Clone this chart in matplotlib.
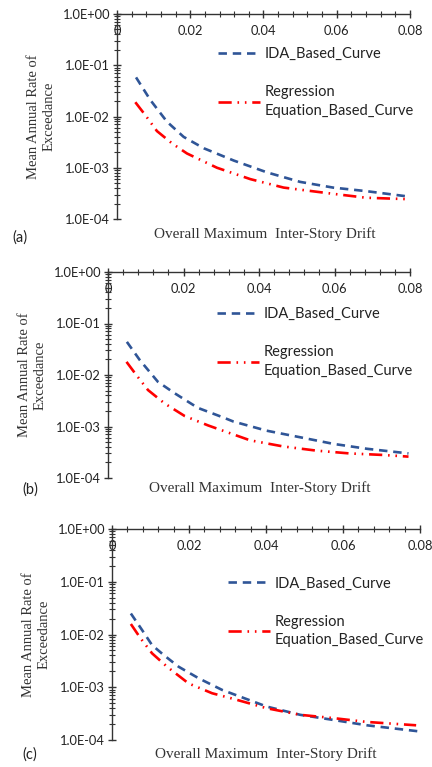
import numpy as np
import matplotlib
matplotlib.use("Agg")
import matplotlib.pyplot as plt
from matplotlib.ticker import LogLocator, NullFormatter, MultipleLocator, FuncFormatter

# ---- data ----
ida_x_a = [0.0052, 0.0091, 0.01365, 0.0182, 0.0237, 0.0319, 0.041, 0.050, 0.059, 0.068, 0.0786]
ida_y_a = [5.8e-2, 2.1e-2, 7.9e-3, 4.0e-3, 2.4e-3, 1.38e-3, 8.1e-4, 5.3e-4, 4.1e-4, 3.5e-4, 2.8e-4]
reg_x_a = [0.005, 0.0077, 0.0109, 0.015, 0.0191, 0.0273, 0.0364, 0.0455, 0.059, 0.068, 0.0786]
reg_y_a = [1.9e-2, 1.07e-2, 5.2e-3, 3.0e-3, 1.9e-3, 1.0e-3, 6.0e-4, 4.1e-4, 3.1e-4, 2.6e-4, 2.45e-4]

ida_x_b = [0.005, 0.0084, 0.0132, 0.0177, 0.0238, 0.0305, 0.0332, 0.042, 0.0508, 0.0597, 0.0685, 0.0796]
ida_y_b = [4.4e-2, 1.96e-2, 7.4e-3, 4.4e-3, 2.3e-3, 1.5e-3, 1.25e-3, 8.3e-4, 6.2e-4, 4.6e-4, 3.7e-4, 3.0e-4]
reg_x_b = [0.0049, 0.0075, 0.0106, 0.015, 0.0203, 0.0265, 0.0376, 0.0464, 0.0552, 0.064, 0.0729, 0.0796]
reg_y_b = [1.8e-2, 1.0e-2, 5.1e-3, 2.8e-3, 1.6e-3, 1.05e-3, 5.4e-4, 4.1e-4, 3.4e-4, 3.0e-4, 2.8e-4, 2.6e-4]

ida_x_c = [0.0049, 0.0078, 0.0104, 0.0134, 0.0173, 0.0225, 0.0286, 0.0402, 0.0489, 0.0575, 0.0662, 0.080]
ida_y_c = [2.5e-2, 1.22e-2, 6.3e-3, 4.1e-3, 2.45e-3, 1.48e-3, 8.9e-4, 4.3e-4, 3.0e-4, 2.4e-4, 1.9e-4, 1.45e-4]
reg_x_c = [0.0049, 0.0074, 0.0104, 0.0143, 0.0199, 0.026, 0.0316, 0.0402, 0.0489, 0.0575, 0.0662, 0.079]
reg_y_c = [1.58e-2, 8.5e-3, 4.4e-3, 2.45e-3, 1.18e-3, 7.7e-4, 6.0e-4, 4.0e-4, 3.0e-4, 2.6e-4, 2.2e-4, 1.9e-4]

panel_tags = ["(a)", "(b)", "(c)"]
x_ticks = [0, 0.02, 0.04, 0.06, 0.08]
x_tick_labels = ["0", "0.02", "0.04", "0.06", "0.08"]

ida_label = "IDA_Based_Curve"
reg_label = "Regression\nEquation_Based_Curve"
y_title = "Mean Annual Rate of\nExceedance"
x_title = "Overall Maximum  Inter-Story Drift"

blue = "#2F5597"
red = "#FF0000"
sans = ["Lato", "DejaVu Sans"]
serif = ["Liberation Serif", "DejaVu Serif"]

W, H = 432, 767
fig = plt.figure(figsize=(W / 100, H / 100), dpi=100)

# axes boxes in pixels: left, right, top, bottom
boxes = [(117, 410, 14, 219), (108, 410, 272, 478), (112, 420, 529, 740)]
legend_anchor = [(0.345, 0.84), (0.36, 0.83), (0.377, 0.775)]
tag_pos = [(12, 238), (22, 490), (22, 755)]
xlabel_pos = [(265, 234), (260, 488), (266, 754)]

data = [(ida_x_a, ida_y_a, reg_x_a, reg_y_a),
        (ida_x_b, ida_y_b, reg_x_b, reg_y_b),
        (ida_x_c, ida_y_c, reg_x_c, reg_y_c)]

for i, (l, r, t, b) in enumerate(boxes):
    ax = fig.add_axes([l / W, 1 - b / H, (r - l) / W, (b - t) / H])
    ix, iy, rx, ry = data[i]
    ax.plot(ix, iy, color=blue, lw=1.9, ls=(0, (3.2, 2.2)), label=ida_label)
    ax.plot(rx, ry, color=red, lw=1.9, ls=(0, (5, 2.2, 0.6, 2.2, 0.6, 2.2)), label=reg_label)
    ax.set_yscale("log")
    ax.set_ylim(1e-4, 1)
    ax.set_xlim(0, 0.08)

    # Excel style: horizontal axis crosses at 1.0E+00
    ax.spines["bottom"].set_position(("data", 1.0))
    ax.spines["top"].set_visible(False)
    ax.spines["right"].set_visible(False)
    for s in ("bottom", "left"):
        ax.spines[s].set_color("#333333")
        ax.spines[s].set_linewidth(1.0)

    ax.set_xticks(x_ticks)
    ax.set_xticklabels(x_tick_labels)
    ax.xaxis.set_minor_locator(MultipleLocator(0.004))
    ax.yaxis.set_major_locator(LogLocator(base=10, numticks=10))
    ax.yaxis.set_minor_locator(LogLocator(base=10, subs=np.arange(2, 10), numticks=10))
    ax.yaxis.set_minor_formatter(NullFormatter())
    ax.yaxis.set_major_formatter(FuncFormatter(
        lambda v, p: "1.0E+00" if v >= 1 else "1.0E-%02d" % round(-np.log10(v))))
    ax.tick_params(axis="both", which="major", direction="inout", length=6,
                   width=1.0, color="#333333", labelsize=9.3, labelcolor="#222222")
    ax.tick_params(axis="both", which="minor", direction="inout", length=4,
                   width=0.8, color="#333333")
    ax.tick_params(axis="x", pad=5)
    ax.tick_params(axis="y", pad=2)
    for lab in ax.get_xticklabels() + ax.get_yticklabels():
        lab.set_family(sans)

    ax.set_ylabel(y_title, family=serif, fontsize=10.5, color="#333333",
                  linespacing=1.25, labelpad=5)

    leg = ax.legend(loc="upper left", bbox_to_anchor=legend_anchor[i], frameon=False,
                    prop={"family": sans, "size": 10.5}, handlelength=2.9,
                    handletextpad=0.3, labelspacing=1.65, borderpad=0, borderaxespad=0)
    for txt in leg.get_texts():
        txt.set_linespacing(1.45)
        txt.set_color("#222222")

    fig.text(xlabel_pos[i][0] / W, 1 - xlabel_pos[i][1] / H, x_title,
             family=serif, fontsize=11, color="#333333", ha="center", va="center")
    fig.text(tag_pos[i][0] / W, 1 - tag_pos[i][1] / H, panel_tags[i],
             family=sans, fontsize=10.5, color="#222222", ha="left", va="center")

fig.savefig("out.png", dpi=100)
